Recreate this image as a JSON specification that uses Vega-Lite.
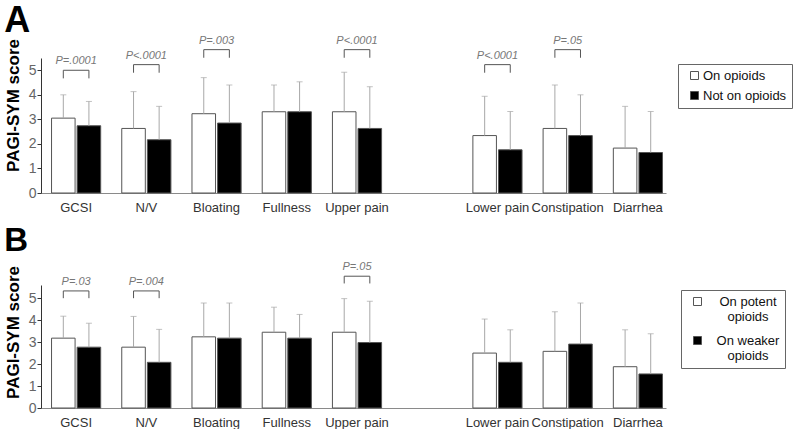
{
  "$schema": "https://vega.github.io/schema/vega-lite/v6.json",
  "padding": {"left": 4, "right": 0, "top": 2, "bottom": 0},
  "config": {
    "font": "Liberation Sans",
    "view": {"stroke": null},
    "concat": {"spacing": 11},
    "axisX": {"labelAngle": 0, "ticks": false, "domainColor": "#8a8a8a", "labelFontSize": 13, "labelColor": "#333", "labelPadding": 8, "title": null, "grid": false},
    "axisY": {"values": [0, 1, 2, 3, 4, 5], "grid": false, "labelColor": "#666", "labelFontSize": 14, "tickSize": 4, "tickColor": "#333", "domainColor": "#333", "labelPadding": 1, "titleFontSize": 17, "titleFontWeight": "bold", "titleColor": "black", "titlePadding": 6, "titleY": 47, "titleAlign": "center"},
    "legend": {"orient": "none", "title": null, "symbolType": "square", "symbolSize": 64, "symbolStrokeColor": "#555", "symbolStrokeWidth": 1, "labelFontSize": 13, "labelColor": "#111", "strokeColor": "#666", "padding": 5, "rowPadding": 6, "labelOffset": 2, "symbolOffset": 5}
  },
  "datasets": {
    "a": [
      {"symptom": "GCSI", "group": "On opioids", "mean": 3.05, "upper": 4.0},
      {"symptom": "GCSI", "group": "Not on opioids", "mean": 2.74, "upper": 3.73},
      {"symptom": "N/V", "group": "On opioids", "mean": 2.63, "upper": 4.13},
      {"symptom": "N/V", "group": "Not on opioids", "mean": 2.17, "upper": 3.53},
      {"symptom": "Bloating", "group": "On opioids", "mean": 3.23, "upper": 4.7},
      {"symptom": "Bloating", "group": "Not on opioids", "mean": 2.85, "upper": 4.4},
      {"symptom": "Fullness", "group": "On opioids", "mean": 3.31, "upper": 4.4},
      {"symptom": "Fullness", "group": "Not on opioids", "mean": 3.31, "upper": 4.53},
      {"symptom": "Upper pain", "group": "On opioids", "mean": 3.31, "upper": 4.92},
      {"symptom": "Upper pain", "group": "Not on opioids", "mean": 2.63, "upper": 4.33},
      {"symptom": "Lower pain", "group": "On opioids", "mean": 2.34, "upper": 3.94},
      {"symptom": "Lower pain", "group": "Not on opioids", "mean": 1.76, "upper": 3.32},
      {"symptom": "Constipation", "group": "On opioids", "mean": 2.63, "upper": 4.4},
      {"symptom": "Constipation", "group": "Not on opioids", "mean": 2.34, "upper": 4.0},
      {"symptom": "Diarrhea", "group": "On opioids", "mean": 1.83, "upper": 3.53},
      {"symptom": "Diarrhea", "group": "Not on opioids", "mean": 1.65, "upper": 3.32}
    ],
    "abr": [
      {"symptom": "GCSI", "group": "On opioids", "top": 5.0, "bottom": 4.67},
      {"symptom": "GCSI", "group": "Not on opioids", "top": 5.0, "bottom": 4.67},
      {"symptom": "N/V", "group": "On opioids", "top": 5.23, "bottom": 4.9},
      {"symptom": "N/V", "group": "Not on opioids", "top": 5.23, "bottom": 4.9},
      {"symptom": "Bloating", "group": "On opioids", "top": 5.84, "bottom": 5.51},
      {"symptom": "Bloating", "group": "Not on opioids", "top": 5.84, "bottom": 5.51},
      {"symptom": "Upper pain", "group": "On opioids", "top": 5.84, "bottom": 5.51},
      {"symptom": "Upper pain", "group": "Not on opioids", "top": 5.84, "bottom": 5.51},
      {"symptom": "Lower pain", "group": "On opioids", "top": 5.23, "bottom": 4.9},
      {"symptom": "Lower pain", "group": "Not on opioids", "top": 5.23, "bottom": 4.9},
      {"symptom": "Constipation", "group": "On opioids", "top": 5.84, "bottom": 5.51},
      {"symptom": "Constipation", "group": "Not on opioids", "top": 5.84, "bottom": 5.51}
    ],
    "ap": [
      {"symptom": "GCSI", "top": 5.0, "p": "P=.0001"},
      {"symptom": "N/V", "top": 5.23, "p": "P<.0001"},
      {"symptom": "Bloating", "top": 5.84, "p": "P=.003"},
      {"symptom": "Upper pain", "top": 5.84, "p": "P<.0001"},
      {"symptom": "Lower pain", "top": 5.23, "p": "P<.0001"},
      {"symptom": "Constipation", "top": 5.84, "p": "P=.05"}
    ],
    "b": [
      {"symptom": "GCSI", "group": "On potent opioids", "mean": 3.18, "upper": 4.18},
      {"symptom": "GCSI", "group": "On weaker opioids", "mean": 2.77, "upper": 3.86},
      {"symptom": "N/V", "group": "On potent opioids", "mean": 2.77, "upper": 4.17},
      {"symptom": "N/V", "group": "On weaker opioids", "mean": 2.08, "upper": 3.58},
      {"symptom": "Bloating", "group": "On potent opioids", "mean": 3.24, "upper": 4.78},
      {"symptom": "Bloating", "group": "On weaker opioids", "mean": 3.18, "upper": 4.78},
      {"symptom": "Fullness", "group": "On potent opioids", "mean": 3.45, "upper": 4.59},
      {"symptom": "Fullness", "group": "On weaker opioids", "mean": 3.18, "upper": 4.26},
      {"symptom": "Upper pain", "group": "On potent opioids", "mean": 3.45, "upper": 4.98},
      {"symptom": "Upper pain", "group": "On weaker opioids", "mean": 2.98, "upper": 4.86},
      {"symptom": "Lower pain", "group": "On potent opioids", "mean": 2.5, "upper": 4.05},
      {"symptom": "Lower pain", "group": "On weaker opioids", "mean": 2.08, "upper": 3.56},
      {"symptom": "Constipation", "group": "On potent opioids", "mean": 2.58, "upper": 4.38},
      {"symptom": "Constipation", "group": "On weaker opioids", "mean": 2.91, "upper": 4.78},
      {"symptom": "Diarrhea", "group": "On potent opioids", "mean": 1.88, "upper": 3.56},
      {"symptom": "Diarrhea", "group": "On weaker opioids", "mean": 1.55, "upper": 3.38}
    ],
    "bbr": [
      {"symptom": "GCSI", "group": "On potent opioids", "top": 5.33, "bottom": 5.0},
      {"symptom": "GCSI", "group": "On weaker opioids", "top": 5.33, "bottom": 5.0},
      {"symptom": "N/V", "group": "On potent opioids", "top": 5.33, "bottom": 5.0},
      {"symptom": "N/V", "group": "On weaker opioids", "top": 5.33, "bottom": 5.0},
      {"symptom": "Upper pain", "group": "On potent opioids", "top": 6.0, "bottom": 5.67},
      {"symptom": "Upper pain", "group": "On weaker opioids", "top": 6.0, "bottom": 5.67}
    ],
    "bp": [
      {"symptom": "GCSI", "top": 5.33, "p": "P=.03"},
      {"symptom": "N/V", "top": 5.33, "p": "P=.004"},
      {"symptom": "Upper pain", "top": 6.0, "p": "P=.05"}
    ]
  },
  "vconcat": [
    {
      "title": {"text": "A", "fontSize": 36, "fontWeight": "bold", "anchor": "start", "frame": "bounds", "color": "black", "offset": -5},
      "width": 625,
      "height": 135,
      "layer": [
        {
          "data": {"name": "a"},
          "mark": {"type": "bar", "stroke": "#555", "strokeWidth": 1},
          "encoding": {
            "x": {"field": "symptom", "type": "nominal", "title": null, "scale": {"domain": ["GCSI", "N/V", "Bloating", "Fullness", "Upper pain", " ", "Lower pain", "Constipation", "Diarrhea"], "paddingInner": 0.3, "paddingOuter": 0.1, "align": 0.75}},
            "xOffset": {"field": "group", "type": "nominal", "scale": {"domain": ["On opioids", "Not on opioids"], "paddingInner": 0.08}},
            "y": {"field": "mean", "type": "quantitative", "title": "PAGI-SYM score", "scale": {"domain": [0, 5.5], "nice": false}},
            "fill": {"field": "group", "type": "nominal", "scale": {"domain": ["On opioids", "Not on opioids"], "range": ["white", "black"]}, "legend": {"legendX": 637, "legendY": 6, "labelExpr": "datum.label + '      '"}}
          }
        },
        {
          "data": {"name": "a"},
          "mark": {"type": "rule", "color": "#a8a8a8", "strokeWidth": 1},
          "encoding": {
            "x": {"field": "symptom", "type": "nominal"},
            "xOffset": {"field": "group", "type": "nominal"},
            "y": {"field": "mean", "type": "quantitative", "title": "PAGI-SYM score", "scale": {"domain": [0, 5.5], "nice": false}},
            "y2": {"field": "upper"}
          }
        },
        {
          "data": {"name": "a"},
          "mark": {"type": "tick", "color": "#a8a8a8", "size": 6, "thickness": 1},
          "encoding": {
            "x": {"field": "symptom", "type": "nominal"},
            "xOffset": {"field": "group", "type": "nominal"},
            "y": {"field": "upper", "type": "quantitative", "title": "PAGI-SYM score", "scale": {"domain": [0, 5.5], "nice": false}}
          }
        },
        {
          "data": {"name": "abr"},
          "mark": {"type": "rule", "color": "#555", "strokeWidth": 1},
          "encoding": {
            "x": {"field": "symptom", "type": "nominal"},
            "xOffset": {"field": "group", "type": "nominal"},
            "y": {"field": "top", "type": "quantitative", "title": "PAGI-SYM score", "scale": {"domain": [0, 5.5], "nice": false}},
            "y2": {"field": "bottom"}
          }
        },
        {
          "data": {"name": "abr"},
          "mark": {"type": "line", "color": "#555", "strokeWidth": 1},
          "encoding": {
            "x": {"field": "symptom", "type": "nominal"},
            "xOffset": {"field": "group", "type": "nominal"},
            "y": {"field": "top", "type": "quantitative", "title": "PAGI-SYM score", "scale": {"domain": [0, 5.5], "nice": false}},
            "detail": {"field": "symptom"}
          }
        },
        {
          "data": {"name": "ap"},
          "mark": {"type": "text", "fontStyle": "italic", "fontSize": 11, "color": "#777", "baseline": "middle", "dy": -9},
          "encoding": {
            "x": {"field": "symptom", "type": "nominal"},
            "y": {"field": "top", "type": "quantitative", "title": "PAGI-SYM score", "scale": {"domain": [0, 5.5], "nice": false}},
            "text": {"field": "p"}
          }
        }
      ]
    },
    {
      "title": {"text": "B", "fontSize": 33, "fontWeight": "bold", "anchor": "start", "frame": "bounds", "color": "black", "offset": 3},
      "width": 625,
      "height": 123,
      "layer": [
        {
          "data": {"name": "b"},
          "mark": {"type": "bar", "stroke": "#555", "strokeWidth": 1},
          "encoding": {
            "x": {"field": "symptom", "type": "nominal", "title": null, "scale": {"domain": ["GCSI", "N/V", "Bloating", "Fullness", "Upper pain", " ", "Lower pain", "Constipation", "Diarrhea"], "paddingInner": 0.3, "paddingOuter": 0.1, "align": 0.75}},
            "xOffset": {"field": "group", "type": "nominal", "scale": {"domain": ["On potent opioids", "On weaker opioids"], "paddingInner": 0.08}},
            "y": {"field": "mean", "type": "quantitative", "title": "PAGI-SYM score", "scale": {"domain": [0, 5.6], "nice": false}},
            "fill": {"field": "group", "type": "nominal", "scale": {"domain": ["On potent opioids", "On weaker opioids"], "range": ["white", "black"]}, "legend": {"legendX": 640, "legendY": 5, "labelAlign": "center", "labelOffset": 44, "rowPadding": 10, "labelExpr": "datum.label == 'On potent opioids' ? ['On potent', 'opioids'] : ['On weaker', 'opioids']"}}
          }
        },
        {
          "data": {"name": "b"},
          "mark": {"type": "rule", "color": "#a8a8a8", "strokeWidth": 1},
          "encoding": {
            "x": {"field": "symptom", "type": "nominal"},
            "xOffset": {"field": "group", "type": "nominal"},
            "y": {"field": "mean", "type": "quantitative", "title": "PAGI-SYM score", "scale": {"domain": [0, 5.6], "nice": false}},
            "y2": {"field": "upper"}
          }
        },
        {
          "data": {"name": "b"},
          "mark": {"type": "tick", "color": "#a8a8a8", "size": 6, "thickness": 1},
          "encoding": {
            "x": {"field": "symptom", "type": "nominal"},
            "xOffset": {"field": "group", "type": "nominal"},
            "y": {"field": "upper", "type": "quantitative", "title": "PAGI-SYM score", "scale": {"domain": [0, 5.6], "nice": false}}
          }
        },
        {
          "data": {"name": "bbr"},
          "mark": {"type": "rule", "color": "#555", "strokeWidth": 1},
          "encoding": {
            "x": {"field": "symptom", "type": "nominal"},
            "xOffset": {"field": "group", "type": "nominal"},
            "y": {"field": "top", "type": "quantitative", "title": "PAGI-SYM score", "scale": {"domain": [0, 5.6], "nice": false}},
            "y2": {"field": "bottom"}
          }
        },
        {
          "data": {"name": "bbr"},
          "mark": {"type": "line", "color": "#555", "strokeWidth": 1},
          "encoding": {
            "x": {"field": "symptom", "type": "nominal"},
            "xOffset": {"field": "group", "type": "nominal"},
            "y": {"field": "top", "type": "quantitative", "title": "PAGI-SYM score", "scale": {"domain": [0, 5.6], "nice": false}},
            "detail": {"field": "symptom"}
          }
        },
        {
          "data": {"name": "bp"},
          "mark": {"type": "text", "fontStyle": "italic", "fontSize": 11, "color": "#777", "baseline": "middle", "dy": -9},
          "encoding": {
            "x": {"field": "symptom", "type": "nominal"},
            "y": {"field": "top", "type": "quantitative", "title": "PAGI-SYM score", "scale": {"domain": [0, 5.6], "nice": false}},
            "text": {"field": "p"}
          }
        }
      ]
    }
  ],
  "resolve": {"scale": {"fill": "independent", "xOffset": "independent"}, "legend": {"fill": "independent"}}
}
